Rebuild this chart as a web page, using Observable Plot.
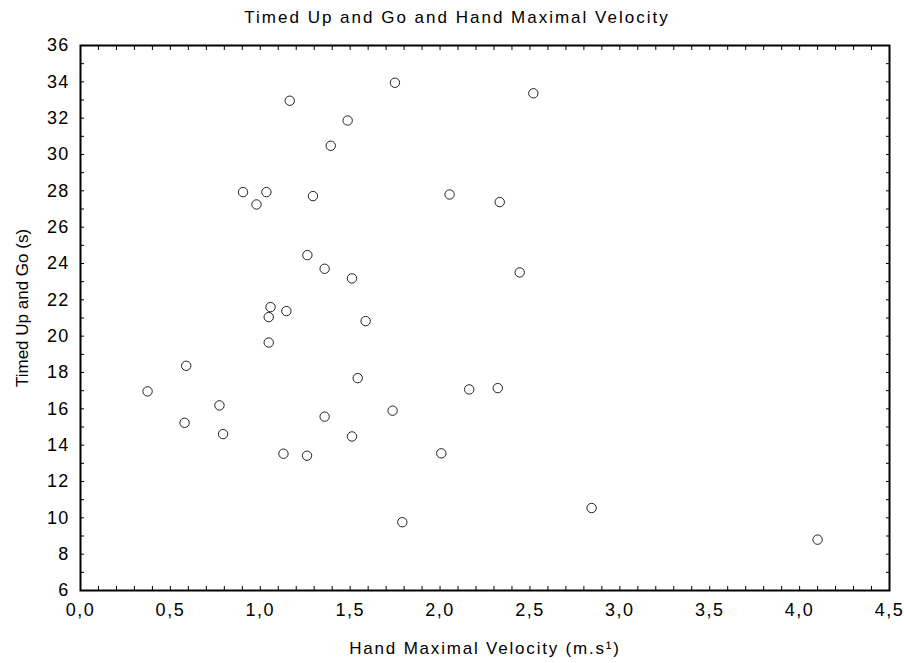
<!DOCTYPE html>
<html><head><meta charset="utf-8">
<script src="https://cdn.jsdelivr.net/npm/d3@7"></script>
<script src="https://cdn.jsdelivr.net/npm/@observablehq/plot@0.6"></script>
<style>
body{margin:0;background:#fff;font-family:"Liberation Sans",Arial,sans-serif;}
#title{box-sizing:border-box;height:35px;width:904px;padding-left:10px;text-align:center;font-size:17px;letter-spacing:2px;line-height:36px;color:#000;}
#chart svg{display:block;}
g[aria-label="x-axis tick label"] text{letter-spacing:1.5px;}
g[aria-label="y-axis tick label"] text{letter-spacing:1.2px;}
g.xtitle text{letter-spacing:1.8px;}
</style></head><body>
<div id="title">Timed Up and Go and Hand Maximal Velocity</div>
<div id="chart"></div>
<script>
const velocity = [0.904, 1.034, 0.979, 1.293, 2.053, 1.262, 1.358, 1.51, 1.057, 1.047, 1.145, 1.586, 1.047, 0.588, 1.542, 0.373, 0.773, 1.736, 1.358, 0.579, 0.793, 1.51, 1.129, 1.26, 2.007, 2.519, 2.332, 2.443, 2.162, 2.321, 1.164, 1.749, 1.486, 1.392, 1.79, 2.843, 4.10];
const tug = [27.93, 27.93, 27.25, 27.71, 27.8, 24.46, 23.71, 23.18, 21.6, 21.05, 21.38, 20.83, 19.65, 18.37, 17.69, 16.96, 16.19, 15.9, 15.57, 15.23, 14.61, 14.48, 13.53, 13.42, 13.55, 33.37, 27.38, 23.51, 17.07, 17.14, 32.96, 33.95, 31.87, 30.48, 9.76, 10.54, 8.8];
const xTickValues = [0, 0.5, 1, 1.5, 2, 2.5, 3, 3.5, 4, 4.5];
const yTickValues = [6, 8, 10, 12, 14, 16, 18, 20, 22, 24, 26, 28, 30, 32, 34, 36];
const xTitle = "Hand Maximal Velocity (m.s\u00B9)";
const yTitle = "Timed Up and Go (s)";

const points = velocity.map((v, i) => ({v, t: tug[i]}));
const xMinor = d3.range(0, 4.5001, 0.1);
const yMinor = d3.range(6, 36.001, 1);
const blank = () => "";

const chart = Plot.plot({
  width: 904, height: 628,
  marginTop: 10, marginLeft: 80, marginRight: 15, marginBottom: 73,
  style: {fontFamily: "'Liberation Sans', Arial, sans-serif", background: "white", color: "black"},
  x: {domain: [0, 4.5]},
  y: {domain: [6, 36]},
  marks: [
    Plot.axisX(xMinor, {anchor: "bottom", tickSize: -4, tickFormat: blank, label: null}),
    Plot.axisX(xMinor, {anchor: "top", tickSize: -4, tickFormat: blank, label: null}),
    Plot.axisY(yMinor, {anchor: "left", tickSize: -4, tickFormat: blank, label: null}),
    Plot.axisY(yMinor, {anchor: "right", tickSize: -4, tickFormat: blank, label: null}),
    Plot.axisX(xTickValues, {anchor: "bottom", tickSize: 0, tickPadding: 13, fontSize: 18,
      tickFormat: d => d.toFixed(1).replace(".", ","), label: null}),
    Plot.axisY(yTickValues, {anchor: "left", tickSize: 0, tickPadding: 11, fontSize: 18, label: null}),
    Plot.frame({stroke: "black", strokeWidth: 2}),
    Plot.dot(points, {x: "v", y: "t", r: 4.7, stroke: "#222", fill: "white", strokeWidth: 1}),
    Plot.text([xTitle], {text: d => d, frameAnchor: "bottom", dy: 63, fontSize: 17, fill: "black", className: "xtitle"}),
    Plot.text([yTitle], {text: d => d, frameAnchor: "left", textAnchor: "middle", dx: -58, dy: -10, rotate: -90, fontSize: 17, fill: "black"})
  ]
});
document.getElementById("chart").appendChild(chart);
</script>
</body></html>
